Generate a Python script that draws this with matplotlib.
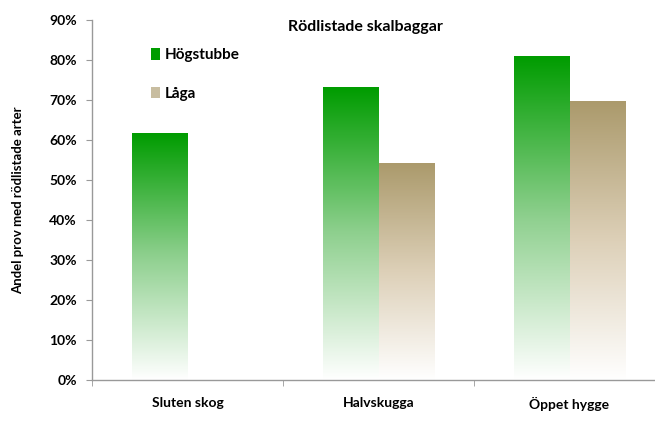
import numpy as np
import matplotlib
matplotlib.use("Agg")
import matplotlib.pyplot as plt
from matplotlib.colors import LinearSegmentedColormap
from matplotlib.patches import Patch
from matplotlib.ticker import FuncFormatter, FixedLocator

categories = ["Sluten skog", "Halvskugga", "Öppet hygge"]
series_names = ["Högstubbe", "Låga"]
hogstubbe = [61.7, 73.2, 81.0]
laga = [np.nan, 54.2, 69.6]
yticks = [0, 10, 20, 30, 40, 50, 60, 70, 80, 90]
title = "Rödlistade skalbaggar"
ylabel = "Andel prov med rödlistade arter"

plt.rcParams['font.family'] = ['Lato', 'DejaVu Sans']

fig = plt.figure(figsize=(6.55, 4.26), dpi=100)
ax = fig.add_axes([92/655, 46/426, (655-92)/655, 360/426])

colors = ["#009c00", "#ab9a6c"]
cmaps = [LinearSegmentedColormap.from_list("g", ["#ffffff", "#8fd08f", "#009c00"]),
         LinearSegmentedColormap.from_list("t", ["#ffffff", "#ddd0b8", "#ab9a6c"])]
width = 0.29
offsets = [-width/2, width/2]
x = np.arange(len(categories))
grad = np.linspace(0, 1, 256).reshape(-1, 1)
for s, vals in enumerate([hogstubbe, laga]):
    for i, v in enumerate(vals):
        if np.isnan(v):
            continue
        x0 = x[i] + offsets[s] - width/2
        ax.imshow(grad, extent=(x0, x0 + width, 0, v), origin='lower',
                  cmap=cmaps[s], aspect='auto', zorder=2, interpolation='bilinear')

ax.set_xlim(-0.5, (655-95)/190 - 0.5)
ax.set_ylim(0, 90)
ax.yaxis.set_major_locator(FixedLocator(yticks))
ax.yaxis.set_major_formatter(FuncFormatter(lambda v, p: f"{int(v)}%"))
ax.set_xticks(x)
ax.set_xticklabels(categories, fontweight='bold', fontsize=10)
ax.xaxis.set_minor_locator(FixedLocator([-0.5, 0.5, 1.5, 2.5]))
ax.tick_params(axis='x', which='major', length=0, pad=12)
ax.tick_params(axis='x', which='minor', length=4, color='#999999', direction='out')
ax.tick_params(axis='y', length=4, color='#999999', direction='out', labelsize=10, pad=7)
for lab in ax.get_yticklabels():
    lab.set_fontweight('bold')
for sp in ['top', 'right']:
    ax.spines[sp].set_visible(False)
for sp in ['left', 'bottom']:
    ax.spines[sp].set_color('#999999')
    ax.spines[sp].set_linewidth(1.0)

ax.set_ylabel(ylabel, fontweight='bold', fontsize=9.5, labelpad=18)
fig.text(365/655, 1 - 27/426, title, ha='center', va='center', fontweight='bold', fontsize=11.5)

handles = [Patch(facecolor=colors[0]), Patch(facecolor="#c8bda0")]
leg = ax.legend(handles, series_names, loc='upper left', bbox_to_anchor=(0.08, 0.96),
                frameon=False, handlelength=0.6, handleheight=0.8, labelspacing=1.6,
                handletextpad=0.3, prop={'weight': 'bold', 'size': 11})

fig.savefig("out.png", dpi=100)
